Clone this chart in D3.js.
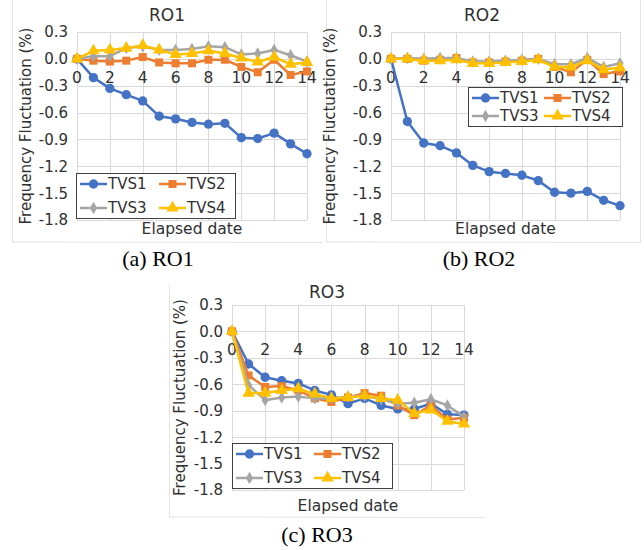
<!DOCTYPE html>
<html>
<head>
<meta charset="utf-8">
<script src="https://cdn.jsdelivr.net/npm/d3@7"></script>
<style>
  html, body { margin: 0; padding: 0; background: #fff; }
  svg { display: block; }
</style>
</head>
<body>
<div id="chart"></div>
<script>
'use strict';

// ── Data ──
var days = [0, 1, 2, 3, 4, 5, 6, 7, 8, 9, 10, 11, 12, 13, 14];
var xTicks = [0, 2, 4, 6, 8, 10, 12, 14];
var yTicks = [0.3, 0.0, -0.3, -0.6, -0.9, -1.2, -1.5, -1.8];
var seriesNames = ['TVS1', 'TVS2', 'TVS3', 'TVS4'];

var ro1_tvs1 = [0, -0.21, -0.33, -0.40, -0.47, -0.64, -0.67, -0.71, -0.73, -0.72, -0.88, -0.89, -0.83, -0.95, -1.06];
var ro1_tvs2 = [0, -0.02, -0.03, -0.02, 0.02, -0.04, -0.05, -0.05, -0.01, -0.01, -0.09, -0.15, -0.01, -0.18, -0.14];
var ro1_tvs3 = [0, 0.03, 0.03, 0.12, 0.14, 0.10, 0.10, 0.11, 0.14, 0.13, 0.05, 0.06, 0.10, 0.04, -0.03];
var ro1_tvs4 = [0, 0.09, 0.10, 0.12, 0.15, 0.10, 0.05, 0.06, 0.09, 0.06, 0.01, -0.035, 0.02, -0.06, -0.04];

var ro2_tvs1 = [0, -0.70, -0.94, -0.97, -1.05, -1.19, -1.26, -1.28, -1.30, -1.36, -1.49, -1.50, -1.48, -1.58, -1.64];
var ro2_tvs2 = [0, 0.00, -0.02, -0.01, 0.01, -0.04, -0.04, -0.03, -0.02, 0.00, -0.09, -0.15, -0.01, -0.17, -0.14];
var ro2_tvs3 = [0, 0.01, 0.00, 0.01, 0.01, -0.03, -0.03, -0.02, -0.01, 0.00, -0.06, -0.06, 0.01, -0.09, -0.05];
var ro2_tvs4 = [0, 0.00, -0.02, -0.02, -0.01, -0.05, -0.05, -0.04, -0.03, -0.01, -0.09, -0.09, -0.02, -0.12, -0.10];

var ro3_tvs1 = [0, -0.37, -0.52, -0.56, -0.59, -0.67, -0.72, -0.82, -0.76, -0.84, -0.88, -0.88, -0.82, -0.94, -0.95];
var ro3_tvs2 = [0, -0.50, -0.63, -0.62, -0.67, -0.76, -0.80, -0.75, -0.70, -0.73, -0.84, -0.95, -0.84, -1.00, -0.98];
var ro3_tvs3 = [0, -0.61, -0.78, -0.75, -0.74, -0.76, -0.76, -0.74, -0.73, -0.77, -0.82, -0.81, -0.77, -0.84, -0.97];
var ro3_tvs4 = [0, -0.70, -0.70, -0.67, -0.65, -0.71, -0.76, -0.75, -0.73, -0.76, -0.78, -0.93, -0.89, -1.02, -1.05];

var colors = ['#4472C4', '#ED7D31', '#A5A5A5', '#FFC000'];
var symbols = [d3.symbolCircle, d3.symbolSquare, d3.symbolDiamond, d3.symbolTriangle];
var symbolSizes = [68, 64, 44, 66];

var W = 644, H = 550;
var font = '"DejaVu Sans", sans-serif';
var textColor = '#303030';
var gridColor = '#d9d9d9';

var svg = d3.select('#chart').append('svg').attr('width', W).attr('height', H);

// ── Panel layout ──
var panels = [
    {title: 'RO1', caption: '(a) RO1', data: [ro1_tvs1, ro1_tvs2, ro1_tvs3, ro1_tvs4],
     box: {l: 12, r: 322, t: -2, b: 242, sides: ['l', 'b']},
     plot: {x0: 77, x1: 307, y0: 32, y1: 220},
     legend: {x: 76, y: 173, w: 159, h: 45, row: 24, col: 79},
     titleX: 167, titleY: 21, yTitleX: 31, xTitleY: 234, captionX: 158, captionY: 266},
    {title: 'RO2', caption: '(b) RO2', data: [ro2_tvs1, ro2_tvs2, ro2_tvs3, ro2_tvs4],
     box: {l: 326, r: 640, t: -2, b: 242, sides: ['l', 'r', 'b']},
     plot: {x0: 391, x1: 620, y0: 32, y1: 220},
     legend: {x: 468, y: 87, w: 154, h: 39, row: 18, col: 72},
     titleX: 482, titleY: 21, yTitleX: 335, xTitleY: 234, captionX: 479, captionY: 266},
    {title: 'RO3', caption: '(c) RO3', data: [ro3_tvs1, ro3_tvs2, ro3_tvs3, ro3_tvs4],
     box: {l: 169, r: 485, t: 285, b: 517, sides: ['l', 'b']},
     plot: {x0: 232, x1: 464, y0: 305, y1: 490},
     legend: {x: 232, y: 443, w: 160, h: 45, row: 24, col: 78},
     titleX: 327, titleY: 298, yTitleX: 185, xTitleY: 511, captionX: 317, captionY: 542}
];

panels.forEach(drawPanel);

function drawPanel(p) {
    var g = svg.append('g');
    var b = p.box;

    // faint chart-area border
    var edges = {
        l: [b.l, b.t, b.l, b.b],
        r: [b.r, b.t, b.r, b.b],
        b: [b.l, b.b, b.r, b.b]
    };
    b.sides.forEach(function(s) {
        var e = edges[s];
        g.append('line').attr('x1', e[0] + 0.5).attr('y1', e[1]).attr('x2', e[2] + 0.5).attr('y2', e[3] + 0.5)
            .style('stroke', '#e4e4e4').style('stroke-width', 1);
    });

    var x = d3.scaleLinear().domain([0, 14]).range([p.plot.x0, p.plot.x1]);
    var y = d3.scaleLinear().domain([-1.8, 0.3]).range([p.plot.y1, p.plot.y0]);

    // gridlines
    g.append('g').selectAll('line').data(yTicks).enter().append('line')
        .attr('x1', x(0)).attr('x2', x(14))
        .attr('y1', function(d) { return Math.round(y(d)) + 0.5; })
        .attr('y2', function(d) { return Math.round(y(d)) + 0.5; })
        .style('stroke', gridColor).style('stroke-width', 1);
    g.append('g').selectAll('line').data(xTicks).enter().append('line')
        .attr('y1', y(0.3)).attr('y2', y(-1.8))
        .attr('x1', function(d) { return Math.round(x(d)) + 0.5; })
        .attr('x2', function(d) { return Math.round(x(d)) + 0.5; })
        .style('stroke', gridColor).style('stroke-width', 1);

    // y tick labels (plain hyphen, as in the figure)
    g.append('g').selectAll('text').data(yTicks).enter().append('text')
        .attr('x', x(0) - 9).attr('y', function(d) { return y(d); })
        .attr('dy', '0.36em').attr('text-anchor', 'end')
        .style('font-family', font).style('font-size', '15px').style('fill', textColor)
        .text(function(d) { return d.toFixed(1); });

    // x tick labels, sitting under the zero line
    g.append('g').selectAll('text').data(xTicks).enter().append('text')
        .attr('x', function(d) { return x(d); }).attr('y', y(0) + 24)
        .attr('text-anchor', 'middle')
        .style('font-family', font).style('font-size', '15.5px').style('fill', textColor)
        .text(function(d) { return d; });

    // series
    var line = d3.line().x(function(d, i) { return x(days[i]); }).y(function(d) { return y(d); });
    p.data.forEach(function(vals, si) {
        g.append('path').datum(vals).attr('d', line)
            .style('fill', 'none').style('stroke', colors[si]).style('stroke-width', 2.5)
            .style('stroke-linejoin', 'round');
        g.append('g').selectAll('path').data(vals).enter().append('path')
            .attr('transform', function(d, i) { return 'translate(' + x(days[i]) + ',' + y(d) + ')'; })
            .attr('d', d3.symbol().type(symbols[si]).size(symbolSizes[si]))
            .style('fill', colors[si]);
    });

    // legend
    var L = p.legend;
    var lg = g.append('g').attr('transform', 'translate(' + L.x + ',' + L.y + ')');
    lg.append('rect').attr('x', 0.5).attr('y', 0.5).attr('width', L.w).attr('height', L.h)
        .style('fill', '#fff').style('stroke', '#404040').style('stroke-width', 1);
    var rowTop = (L.h - L.row) / 2 + 0.5;
    seriesNames.forEach(function(name, si) {
        var cx = 4 + (si % 2) * L.col;
        var cy = rowTop + Math.floor(si / 2) * L.row;
        lg.append('line').attr('x1', cx).attr('x2', cx + 27).attr('y1', cy).attr('y2', cy)
            .style('stroke', colors[si]).style('stroke-width', 2.5);
        lg.append('path').attr('transform', 'translate(' + (cx + 13.5) + ',' + cy + ')')
            .attr('d', d3.symbol().type(symbols[si]).size(symbolSizes[si]))
            .style('fill', colors[si]);
        lg.append('text').attr('x', cx + 28).attr('y', cy).attr('dy', '0.36em')
            .style('font-family', font).style('font-size', '15px').style('fill', textColor)
            .text(name);
    });

    // titles
    g.append('text').attr('x', p.titleX).attr('y', p.titleY).attr('text-anchor', 'middle')
        .style('font-family', font).style('font-size', '17px').style('fill', textColor)
        .text(p.title);
    g.append('text').attr('transform', 'translate(' + p.yTitleX + ',' + ((p.plot.y0 + p.plot.y1) / 2) + ') rotate(-90)')
        .attr('text-anchor', 'middle')
        .style('font-family', font).style('font-size', '15px').style('fill', textColor)
        .text('Frequency Fluctuation (%)');
    g.append('text').attr('x', (p.plot.x0 + p.plot.x1) / 2).attr('y', p.xTitleY).attr('text-anchor', 'middle')
        .style('font-family', font).style('font-size', '15.5px').style('fill', textColor)
        .text('Elapsed date');
    g.append('text').attr('x', p.captionX).attr('y', p.captionY).attr('text-anchor', 'middle')
        .style('font-family', '"Liberation Serif", "Times New Roman", serif').style('font-size', '22px').style('fill', '#000')
        .text(p.caption);
}
</script>
</body>
</html>
